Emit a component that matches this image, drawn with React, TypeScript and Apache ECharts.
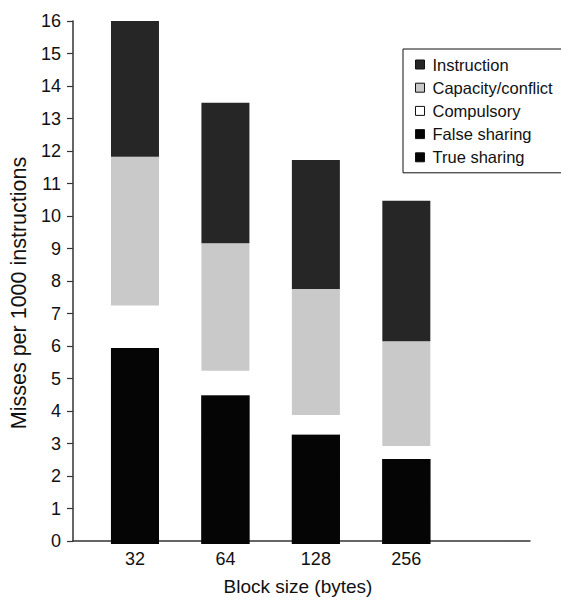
import React, { useEffect, useRef } from "react";
import * as echarts from "echarts";

const categories = ["32", "64", "128", "256", ""];
const trueSharing = [4.9, 3.35, 2.15, 1.4];
const falseSharing = [1.1, 1.2, 1.2, 1.2];
const compulsory = [1.3, 0.75, 0.6, 0.4];
const capacityConflict = [4.55, 3.9, 3.85, 3.2];
const instruction = [4.15, 4.3, 3.95, 4.3];
const yTicks = [0, 16, 1];

const FONT = "Liberation Sans, Arial, Helvetica, sans-serif";

export default function App() {
  const ref = useRef<HTMLDivElement>(null);
  useEffect(() => {
    document.body.style.margin = "0";
    if (!ref.current) return;
    const chart = echarts.init(ref.current, null, { renderer: "svg" });
    const mk = (name: string, data: number[], color: string) => ({
      name,
      type: "bar",
      stack: "total",
      barWidth: 48,
      barGap: "-100%",
      xAxisIndex: 0,
      yAxisIndex: 0,
      data,
      itemStyle: { color },
      emphasis: { disabled: true },
    });
    // Backing bar (both sharing parts are black) so the seam between them does not show
    const sharingTotal = trueSharing.map((v, i) => v + falseSharing[i]);
    chart.setOption({
      animation: false,
      backgroundColor: "#ffffff",
      textStyle: { fontFamily: FONT },
      grid: [
        { left: 89.75, right: 19, top: 21, bottom: 57, containLabel: false },
        { left: 72, right: 31, top: 21, bottom: 57, containLabel: false },
      ],
      legend: {
        orient: "vertical",
        left: 403,
        top: 49,
        data: ["Instruction", "Capacity/conflict", "Compulsory", "False sharing", "True sharing"],
        itemWidth: 9,
        itemHeight: 9,
        itemGap: 6.2,
        padding: [7, 34, 7, 12],
        borderColor: "#111",
        borderWidth: 1,
        icon: "rect",
        itemStyle: { borderColor: "#111", borderWidth: 1 },
        textStyle: { fontSize: 16.5, color: "#111", fontFamily: FONT, padding: [0, 0, 0, 3] },
        selectedMode: false,
      },
      xAxis: [
        {
          type: "category",
          gridIndex: 0,
          data: categories,
          axisLine: { show: false },
          axisTick: { show: false },
          splitLine: { show: false },
          axisLabel: { fontSize: 18, color: "#111", margin: 6, fontFamily: FONT },
        },
        {
          type: "value",
          gridIndex: 1,
          min: 0,
          max: 1,
          name: "Block size (bytes)",
          nameLocation: "middle",
          nameGap: 36,
          nameTextStyle: { fontSize: 19, color: "#111", fontFamily: FONT, padding: [0, 7, 0, 0] },
          axisLine: { show: true, onZero: false, lineStyle: { color: "#333", width: 1.5 } },
          axisTick: { show: false },
          axisLabel: { show: false },
          splitLine: { show: false },
        },
      ],
      yAxis: [
        {
          type: "value",
          gridIndex: 0,
          min: yTicks[0],
          max: yTicks[1],
          interval: yTicks[2],
          show: false,
        },
        {
          type: "value",
          gridIndex: 1,
          min: yTicks[0],
          max: yTicks[1],
          interval: yTicks[2],
          name: "Misses per 1000 instructions",
          nameLocation: "middle",
          nameGap: 43,
          nameTextStyle: { fontSize: 21.5, color: "#111", fontFamily: FONT, padding: [0, 24, 0, 0] },
          axisLine: { show: true, onZero: false, lineStyle: { color: "#333", width: 1.5 } },
          axisTick: { show: true, length: 6, lineStyle: { color: "#333", width: 1.2 } },
          splitLine: { show: false },
          axisLabel: { fontSize: 18, color: "#111", margin: 12, fontFamily: FONT },
        },
      ],
      series: [
        {
          name: "sharing-backing",
          type: "bar",
          barWidth: 48,
          barGap: "-100%",
          xAxisIndex: 0,
          yAxisIndex: 0,
          data: sharingTotal,
          itemStyle: { color: "#050505" },
          emphasis: { disabled: true },
          silent: true,
        },
        mk("True sharing", trueSharing, "#050505"),
        mk("False sharing", falseSharing, "#050505"),
        mk("Compulsory", compulsory, "#ffffff"),
        mk("Capacity/conflict", capacityConflict, "#c9c9c9"),
        mk("Instruction", instruction, "#262626"),
      ],
    });
    return () => chart.dispose();
  }, []);
  return <div ref={ref} style={{ width: 561, height: 601 }} />;
}
